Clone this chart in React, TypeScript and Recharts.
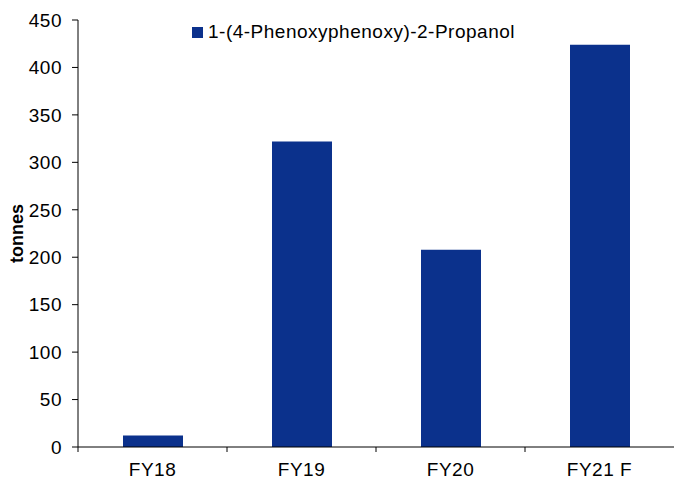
import { Bar, BarChart, Label, Legend, XAxis, YAxis } from "recharts";

const categories = ["FY18", "FY19", "FY20", "FY21 F"];
const propanol = [12, 322, 208, 424];
const yTicks = [0, 50, 100, 150, 200, 250, 300, 350, 400, 450];
const seriesName = "1-(4-Phenoxyphenoxy)-2-Propanol";

const data = categories.map((name, i) => ({ name, value: propanol[i] }));

const W = 675;
const H = 483;
const AXIS_W = 78;
const RIGHT = 1;
const band = (W - AXIS_W - RIGHT) / categories.length;
const font = "'Liberation Sans', Arial, sans-serif";

const XTick = ({ x, y, payload }: any) => (
    <g>
        <line x1={x - band / 2} x2={x - band / 2} y1={y - 8} y2={y - 3} stroke="#000" />
        <text x={x} y={y + 21} textAnchor="middle" fill="#000" fontSize={19} fontFamily={font} letterSpacing={0.5}>
            {payload.value}
        </text>
    </g>
);

const LegendBox = () => (
    <div
        style={{
            display: "flex",
            alignItems: "center",
            fontFamily: font,
            fontSize: 19,
            letterSpacing: 0.5,
            color: "#000",
        }}
    >
        <span style={{ width: 11, height: 11, background: "#0b318c", marginRight: 5, display: "inline-block" }} />
        {seriesName}
    </div>
);

export default function App() {
    return (
        <div style={{ position: "absolute", left: 0, top: 0, background: "#fff" }}>
            <BarChart width={W} height={H} data={data} margin={{ top: 20, right: RIGHT, bottom: 6, left: 0 }}>
                <XAxis
                    dataKey="name"
                    stroke="#000"
                    tickLine={false}
                    tick={<XTick />}
                    height={30}
                    interval={0}
                />
                <YAxis
                    domain={[0, 450]}
                    ticks={yTicks}
                    width={AXIS_W}
                    stroke="#000"
                    tickSize={6}
                    tickMargin={10}
                    interval={0}
                    tick={{ fill: "#000", fontSize: 19, fontFamily: font, letterSpacing: 0.5 }}
                >
                    <Label
                        value="tonnes"
                        angle={-90}
                        position="insideLeft"
                        offset={17}
                        style={{ fontWeight: "bold", fontSize: 18, fontFamily: font, fill: "#000", textAnchor: "middle" }}
                    />
                </YAxis>
                <Legend
                    layout="horizontal"
                    verticalAlign="middle"
                    align="center"
                    content={<LegendBox />}
                    wrapperStyle={{ top: 21, left: 192, width: "auto" }}
                />
                <Bar dataKey="value" name={seriesName} fill="#0b318c" barSize={60} isAnimationActive={false} />
            </BarChart>
        </div>
    );
}
